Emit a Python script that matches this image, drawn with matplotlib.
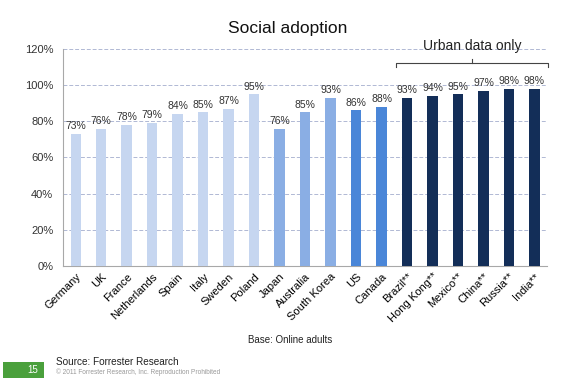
import matplotlib.pyplot as plt
import numpy as np

countries = ["Germany", "UK", "France", "Netherlands", "Spain", "Italy", "Sweden",
             "Poland", "Japan", "Australia", "South Korea", "US", "Canada",
             "Brazil**", "Hong Kong**", "Mexico**", "China**", "Russia**", "India**"]
values = [73, 76, 78, 79, 84, 85, 87, 95, 76, 85, 93, 86, 88, 93, 94, 95, 97, 98, 98]
groups = [0, 0, 0, 0, 0, 0, 0, 0, 1, 1, 1, 2, 2, 3, 3, 3, 3, 3, 3]
group_colors = ["#c6d6f0", "#8aaee4", "#4a86d8", "#132e58"]

plt.rcParams['font.family'] = ['Liberation Sans', 'DejaVu Sans']

fig = plt.figure(figsize=(5.65, 3.86), dpi=100)
ax = fig.add_axes([0.1115, 0.311, 0.857, 0.562])

x = np.arange(len(countries))
colors = [group_colors[g] for g in groups]
bars = ax.bar(x, values, width=0.41, color=colors, zorder=3)
for xi, v in zip(x, values):
    ax.text(xi, v + 1.5, f"{v}%", ha='center', va='bottom', fontsize=7.5, color='#333333', zorder=4)

ax.set_xlim(-0.5, len(countries) - 0.5)
ax.set_ylim(0, 120)
ax.set_yticks(range(0, 121, 20))
ax.set_yticklabels([f"{t}%" for t in range(0, 121, 20)], fontsize=8, color='#333333')
ax.yaxis.grid(True, linestyle=(0, (4, 2)), color='#b0b8d4', linewidth=0.7, zorder=0)
ax.set_xticks(x)
ax.set_xticklabels(countries, rotation=45, ha='right', rotation_mode='anchor', fontsize=8)
ax.tick_params(axis='x', length=0, pad=4)
ax.tick_params(axis='y', length=0, pad=7)
for s in ['top', 'right']:
    ax.spines[s].set_visible(False)
for s in ['left', 'bottom']:
    ax.spines[s].set_color('#a8a8a8')
    ax.spines[s].set_linewidth(0.8)

# bracket for urban data
bx0, bx1 = 12.57, 18.55
by = 112.5
ax.plot([bx0, bx0, bx1, bx1], [by - 2.2, by, by, by - 2.2], color='#444444', lw=0.8, clip_on=False)
ax.plot([(bx0 + bx1) / 2] * 2, [by, by + 1.8], color='#444444', lw=0.8, clip_on=False)
ax.text((bx0 + bx1) / 2, by + 5.5, "Urban data only", ha='center', va='bottom', fontsize=10, color='#222222')

fig.text(0.51, 0.927, "Social adoption", ha='center', va='center', fontsize=12.5, color='#111111')
fig.text(0.513, 0.118, "Base: Online adults", ha='center', va='center', fontsize=7, color='#222222')
fig.text(0.1, 0.062, "Source: Forrester Research", ha='left', va='center', fontsize=7.2, color='#222222')
fig.text(0.1, 0.035, "\u00a9 2011 Forrester Research, Inc. Reproduction Prohibited", ha='left', va='center',
         fontsize=4.7, color='#999999')
fig.patches.append(plt.Rectangle((0.005, 0.021), 0.072, 0.041, transform=fig.transFigure,
                                 facecolor='#4aa03c', edgecolor='none'))
fig.text(0.068, 0.041, "15", ha='right', va='center', fontsize=7, color='white')

fig.savefig("out.png", dpi=100)
